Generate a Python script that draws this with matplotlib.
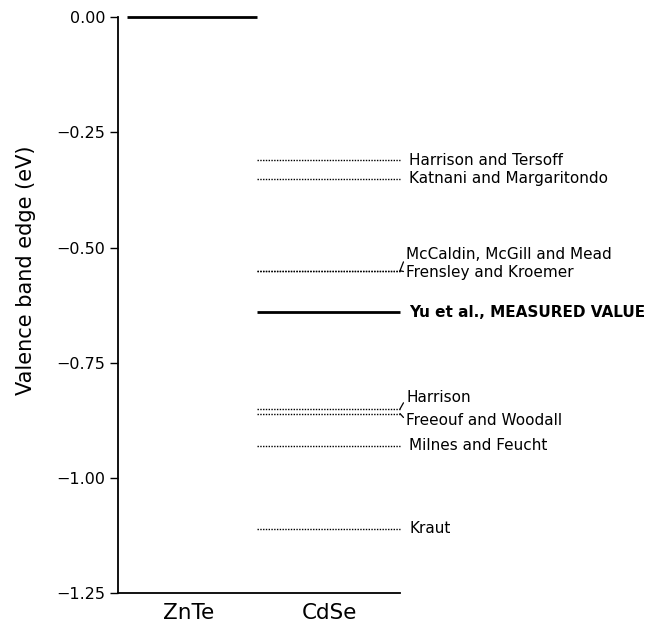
import matplotlib
matplotlib.use("Agg")
import matplotlib.pyplot as plt

# ---- data ----
materials = ["ZnTe", "CdSe"]
znte_edge = 0.00
measured_label = "Yu et al., MEASURED VALUE"
measured_value = -0.64
single_labels = ["Harrison and Tersoff", "Katnani and Margaritondo",
                 "Milnes and Feucht", "Kraut"]
single_values = [-0.31, -0.35, -0.93, -1.11]
pair_labels = [("McCaldin, McGill and Mead", "Frensley and Kroemer"),
               ("Harrison", "Freeouf and Woodall")]
pair_values = [(-0.55, -0.55), (-0.85, -0.86)]
yticks = [0.00, -0.25, -0.50, -0.75, -1.00, -1.25]

plt.rcParams['font.family'] = ['DejaVu Sans']

fig = plt.figure(figsize=(6.62, 6.27), dpi=100)
ax = fig.add_axes([118/662, 1-593.3/627, 282/662, 576/627])

ax.set_xlim(0, 1)
ax.set_ylim(-1.25, 0.0)

# ZnTe reference line
ax.plot([0.032, 0.493], [znte_edge, znte_edge], color='black', lw=2.0,
        solid_capstyle='butt', clip_on=False)

dot = (0, (1, 1))
x0, x1 = 0.493, 1.0
lab_x = 1.032
fs = 11

for lab, v in zip(single_labels, single_values):
    ax.plot([x0, x1], [v, v], color='black', lw=1.0, ls=dot, clip_on=False)
    ax.text(lab_x, v, lab, ha='left', va='center', fontsize=fs,
            transform=ax.transData, clip_on=False)

# measured value
ax.plot([x0, x1], [measured_value, measured_value], color='black', lw=2.0,
        solid_capstyle='butt', clip_on=False)
ax.text(lab_x, measured_value, measured_label, ha='left', va='center',
        fontsize=fs, fontweight='bold', clip_on=False)

# pairs with bracket connectors
for (la, lb), (va_, vb) in zip(pair_labels, pair_values):
    for v in (va_, vb):
        ax.plot([x0, x1], [v, v], color='black', lw=1.0, ls=dot, clip_on=False)
    if va_ == vb:
        off_a, off_b = 11.5, -1.0
    else:
        off_a, off_b = 8.0, -5.0
    ax.annotate(la, xy=(x1, va_), xytext=(4.5, off_a), textcoords='offset points',
                ha='left', va='center', fontsize=fs,
                arrowprops=dict(arrowstyle='-', lw=0.9, color='black',
                                shrinkA=0, shrinkB=0, relpos=(0, 0.5)))
    ax.annotate(lb, xy=(x1, vb), xytext=(4.5, off_b), textcoords='offset points',
                ha='left', va='center', fontsize=fs,
                arrowprops=dict(arrowstyle='-', lw=0.9, color='black',
                                shrinkA=0, shrinkB=0, relpos=(0, 0.5)))

# axes styling
for s in ('top', 'right'):
    ax.spines[s].set_visible(False)
ax.spines['left'].set_linewidth(1.3)
ax.spines['bottom'].set_linewidth(1.3)

ax.set_yticks(yticks)
ax.set_yticklabels(["0.00"] + ["\u2212%.2f" % abs(t) for t in yticks[1:]])
ax.tick_params(axis='y', direction='out', length=6, width=1.0, labelsize=11.5, pad=3)
ax.set_xticks([0.25, 0.75])
ax.set_xticklabels(materials)
ax.tick_params(axis='x', length=0, labelsize=15.5, pad=7)

ax.set_ylabel("Valence band edge (eV)", fontsize=15)
ax.yaxis.set_label_coords(-0.29, 0.56)

fig.savefig("out.png", dpi=100)
